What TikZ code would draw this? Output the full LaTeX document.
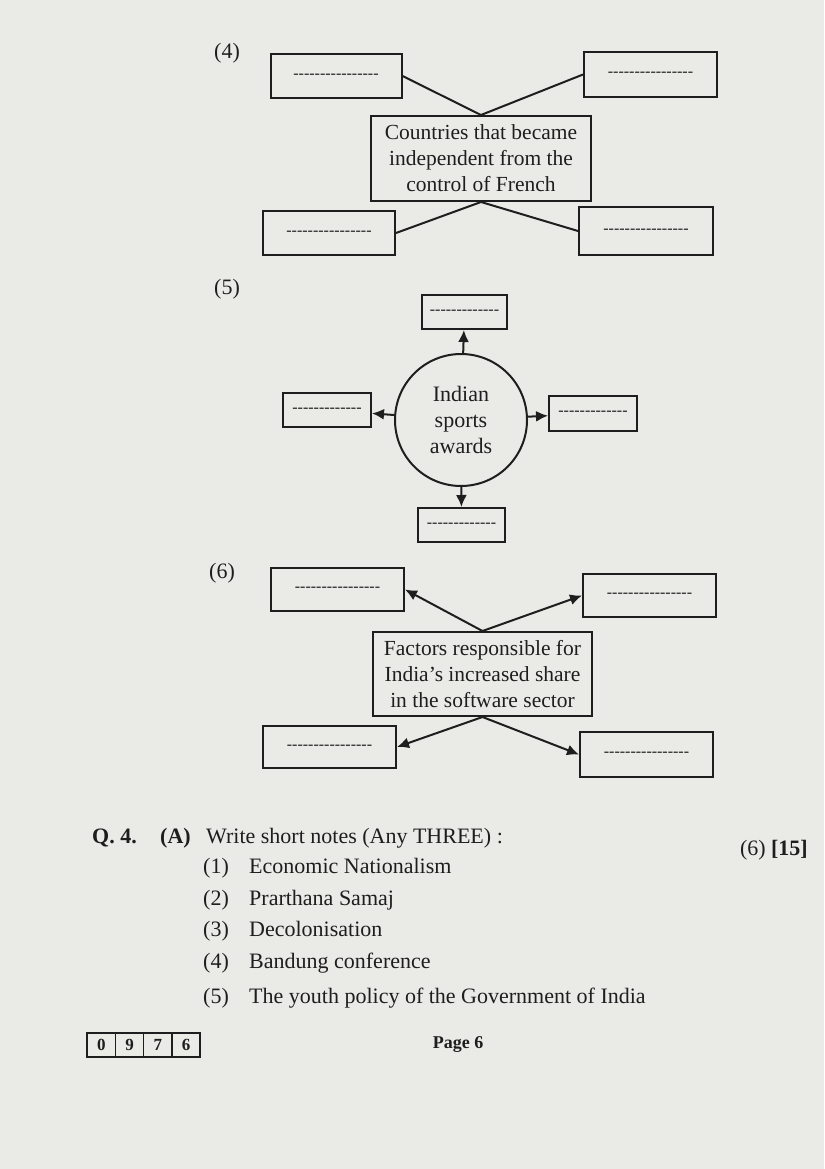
\documentclass[tikz,border=0pt]{standalone}
\usepackage{fontspec}
\setmainfont{Liberation Serif}
\usetikzlibrary{arrows.meta}
\definecolor{paper}{RGB}{234,234,231}
\definecolor{ink}{RGB}{30,30,30}
\tikzset{
  ans/.style={draw=ink, line width=2pt, inner sep=0pt, text=ink, font=\fontsize{16}{16}\selectfont},
  topic/.style={draw=ink, line width=2pt, inner sep=0pt, align=center, text=ink, font=\fontsize{21.5}{26}\selectfont},
  link/.style={draw=ink, line width=2pt},
  arr/.style={draw=ink, line width=2pt, -{Latex[length=12pt,width=11pt]}},
  txt/.style={inner sep=0pt, anchor=base west, text=ink, font=\fontsize{22}{26}\selectfont},
  txtb/.style={txt, font=\fontsize{22}{26}\selectfont\bfseries},
}
\newcommand{\blank}[1]{\foreach \k in {1,...,#1}{-}}
\begin{document}
\begin{tikzpicture}[x=1pt,y=-1pt]
    \fill[paper] (0,0) rectangle (824,1169);
    \useasboundingbox (0,0) rectangle (824,1169);

    % (4)
    \node[txt] (n4) at (214,59) {(4)};
    \node[topic, minimum width=220pt, minimum height=85pt] (c4) at (481,158.5) {Countries that became\\independent from the\\control of French};
    \node[ans, minimum width=131pt, minimum height=44pt] (a1) at (336,76) {\blank{16}};
    \node[ans, minimum width=133pt, minimum height=45pt] (a2) at (650.5,74.5) {\blank{16}};
    \node[ans, minimum width=132pt, minimum height=44pt] (a3) at (329,233) {\blank{16}};
    \node[ans, minimum width=134pt, minimum height=48pt] (a4) at (646,231) {\blank{16}};
    \draw[link] (a1.east) -- (c4.north) -- (a2.west);
    \draw[link] (a3.east) -- (c4.south) -- (a4.west);

    % (5)
    \node[txt] (n5) at (214,294) {(5)};
    \node[draw=ink, circle, line width=2pt, minimum size=132pt, inner sep=0pt, align=center, text=ink,
          font=\fontsize{22}{26}\selectfont] (c5) at (461,420) {Indian\\sports\\awards};
    \node[ans, minimum width=85pt, minimum height=34pt] (b1) at (464.5,312) {\blank{13}};
    \node[ans, minimum width=88pt, minimum height=34pt] (b2) at (327,410) {\blank{13}};
    \node[ans, minimum width=88pt, minimum height=35pt] (b3) at (593,413.5) {\blank{13}};
    \node[ans, minimum width=87pt, minimum height=34pt] (b4) at (461.5,525) {\blank{13}};
    \foreach \b in {b1,b2,b3,b4}
        \draw[arr] (c5) -- (\b);

    % (6)
    \node[txt] (n6) at (209,578) {(6)};
    \node[topic, minimum width=219pt, minimum height=84pt] (c6) at (482.5,674) {Factors responsible for\\India's increased share\\in the software sector};
    \node[ans, minimum width=133pt, minimum height=43pt] (d1) at (337.5,589.5) {\blank{16}};
    \node[ans, minimum width=133pt, minimum height=43pt] (d2) at (649.5,595.5) {\blank{16}};
    \node[ans, minimum width=133pt, minimum height=42pt] (d3) at (329.5,747) {\blank{16}};
    \node[ans, minimum width=133pt, minimum height=45pt] (d4) at (646.5,754.5) {\blank{16}};
    \draw[arr] (c6.north) -- (d1.east);
    \draw[arr] (c6.north) -- (d2.west);
    \draw[arr] (c6.south) -- (d3.east);
    \draw[arr] (c6.south) -- (d4.west);

    % Q. 4
    \node[txtb] (q4) at (92,843) {Q. 4.};
    \node[txtb] (q4a) at (160,843) {(A)};
    \node[txt] (q4t) at (206,843) {Write short notes (Any THREE) :};
    \node[txt, anchor=base east] (marks) at (808,855) {(6) \textbf{[15]}};
    \foreach \n/\yy/\t in {1/873/Economic Nationalism, 2/905/Prarthana Samaj, 3/936/Decolonisation,
                          4/968/Bandung conference, 5/1003/The youth policy of the Government of India} {
        \node[txt] (i\n) at (203,\yy) {(\n)};
        \node[txt] (t\n) at (249,\yy) {\t};
    }

    % footer
    \foreach \d [count=\i] in {0,9,7,6}
        \node[draw=ink, line width=1.6pt, minimum width=28.25pt, minimum height=24pt, inner sep=0pt, text=ink,
              font=\fontsize{17}{17}\selectfont\bfseries] (code\i) at ({73+28.25*\i},1045) {\d};
    \node[text=ink, font=\fontsize{18}{18}\selectfont\bfseries] (page) at (458,1045) {Page 6};
\end{tikzpicture}
\end{document}
